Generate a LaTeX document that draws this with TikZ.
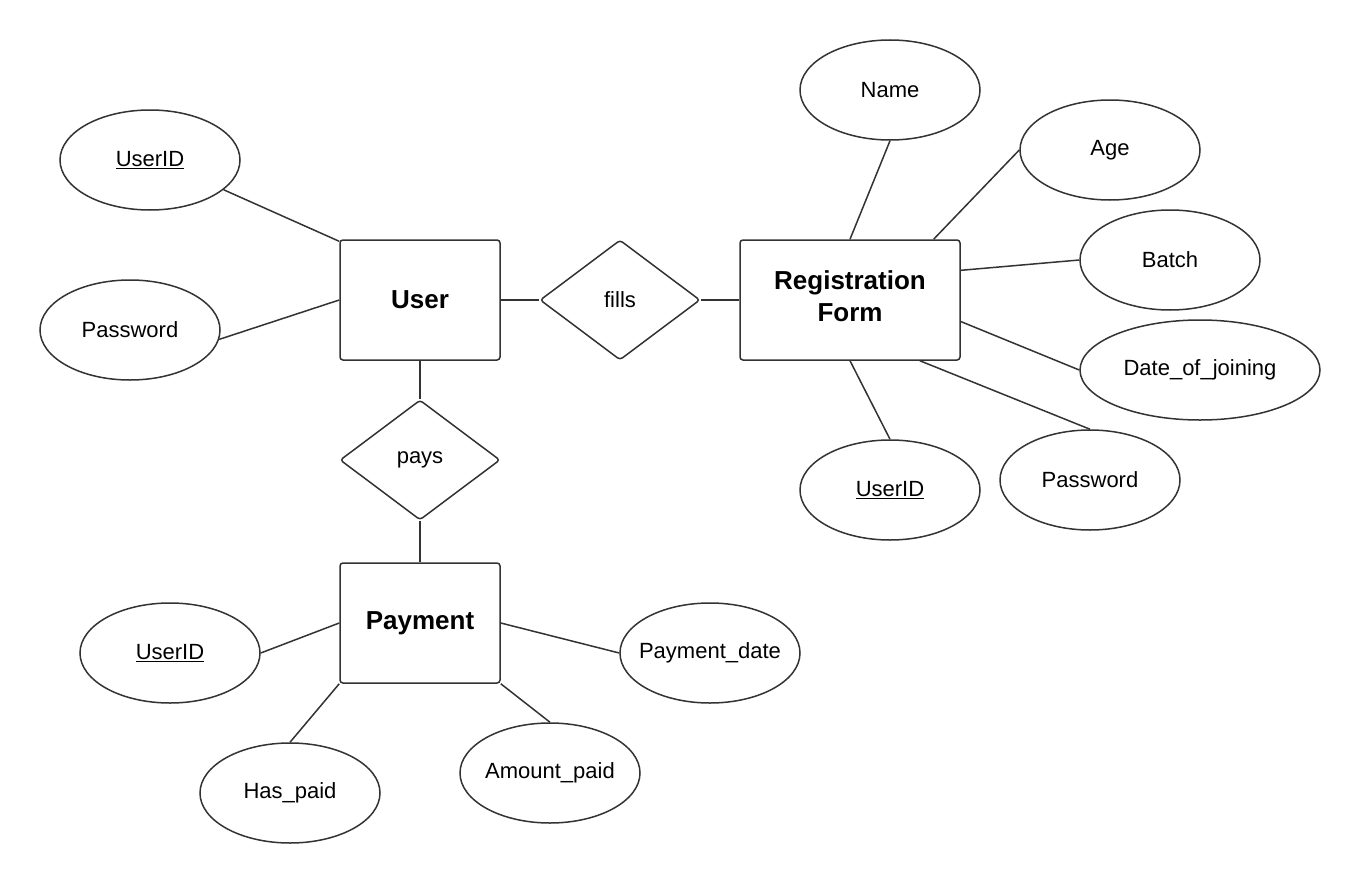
\documentclass[tikz,border=0pt]{standalone}
\usepackage{fontspec}
\setmainfont{Liberation Sans}
\usetikzlibrary{shapes.geometric}
\definecolor{edge}{HTML}{333333}
\tikzset{
  ent/.style={draw=edge, line width=1.5pt, rounded corners=3pt, minimum width=160pt, minimum height=120pt, inner sep=0pt, align=center, font=\fontsize{26}{32}\selectfont\bfseries, fill=white},
  attr/.style={draw=edge, line width=1.5pt, ellipse, minimum width=180pt, minimum height=100pt, inner sep=0pt, font=\fontsize{22}{26}\selectfont, fill=white},
  rel/.style={draw=edge, line width=1.5pt, diamond, aspect=1.3333, minimum width=160pt, minimum height=120pt, inner sep=0pt, rounded corners=3pt, font=\fontsize{22}{26}\selectfont, fill=white},
  conn/.style={draw=edge, line width=1.5pt}
}
\newcommand{\ul}[1]{\underline{#1}}
\newcommand{\zw}[1]{\makebox[0pt]{#1}}
\begin{document}
\begin{tikzpicture}[x=1pt,y=-1pt]
\useasboundingbox[fill=white] (0,0) rectangle (1360,883);
% entities
\node[ent] (user) at (420,300) {User};
\node[ent, minimum width=220pt, text depth=8.6pt] (rf) at (850,300) {Registration\\Form};
\node[ent] (payment) at (420,623) {Payment};
% relationships
\node[rel] (fills) at (620,300) {fills};
\node[rel] (pays) at (420,460) {pays};
% attributes
\node[attr] (uid1) at (150,160) {\ul{UserID}};
\node[attr] (pw1) at (130,330) {Password};
\node[attr] (name) at (890,90) {Name};
\node[attr] (age) at (1110,150) {Age};
\node[attr] (batch) at (1170,260) {Batch};
\node[attr, minimum width=240pt] (doj) at (1200,370) {\zw{Date\_of\_joining}};
\node[attr] (uid2) at (890,490) {\ul{UserID}};
\node[attr] (pw2) at (1090,480) {Password};
\node[attr] (uid3) at (170,653) {\ul{UserID}};
\node[attr] (pdate) at (710,653) {\zw{Payment\_date}};
\node[attr] (haspaid) at (290,793) {Has\_paid};
\node[attr] (amount) at (550,773) {\zw{Amount\_paid}};
% connectors
\draw[conn] (uid1.-22.6) -- (user.144);
\draw[conn] (pw1.-6.5) -- (user.west);
\draw[conn] (user.east) -- (fills.west);
\draw[conn] (fills.east) -- (rf.west);
\draw[conn] (name.south) -- (rf.north);
\draw[conn] (age.west) -- (rf.36.87);
\draw[conn] (batch.west) -- (rf.15.3);
\draw[conn] (doj.west) -- (rf.-11.3);
\draw[conn] (uid2.north) -- (rf.south);
\draw[conn] (pw2.north) -- (rf.-41.4);
\draw[conn] (user.south) -- (pays.north);
\draw[conn] (pays.south) -- (payment.north);
\draw[conn] (uid3.east) -- (payment.west);
\draw[conn] (pdate.west) -- (payment.east);
\draw[conn] (haspaid.north) -- (payment.south west);
\draw[conn] (amount.north) -- (payment.south east);
\end{tikzpicture}
\end{document}
